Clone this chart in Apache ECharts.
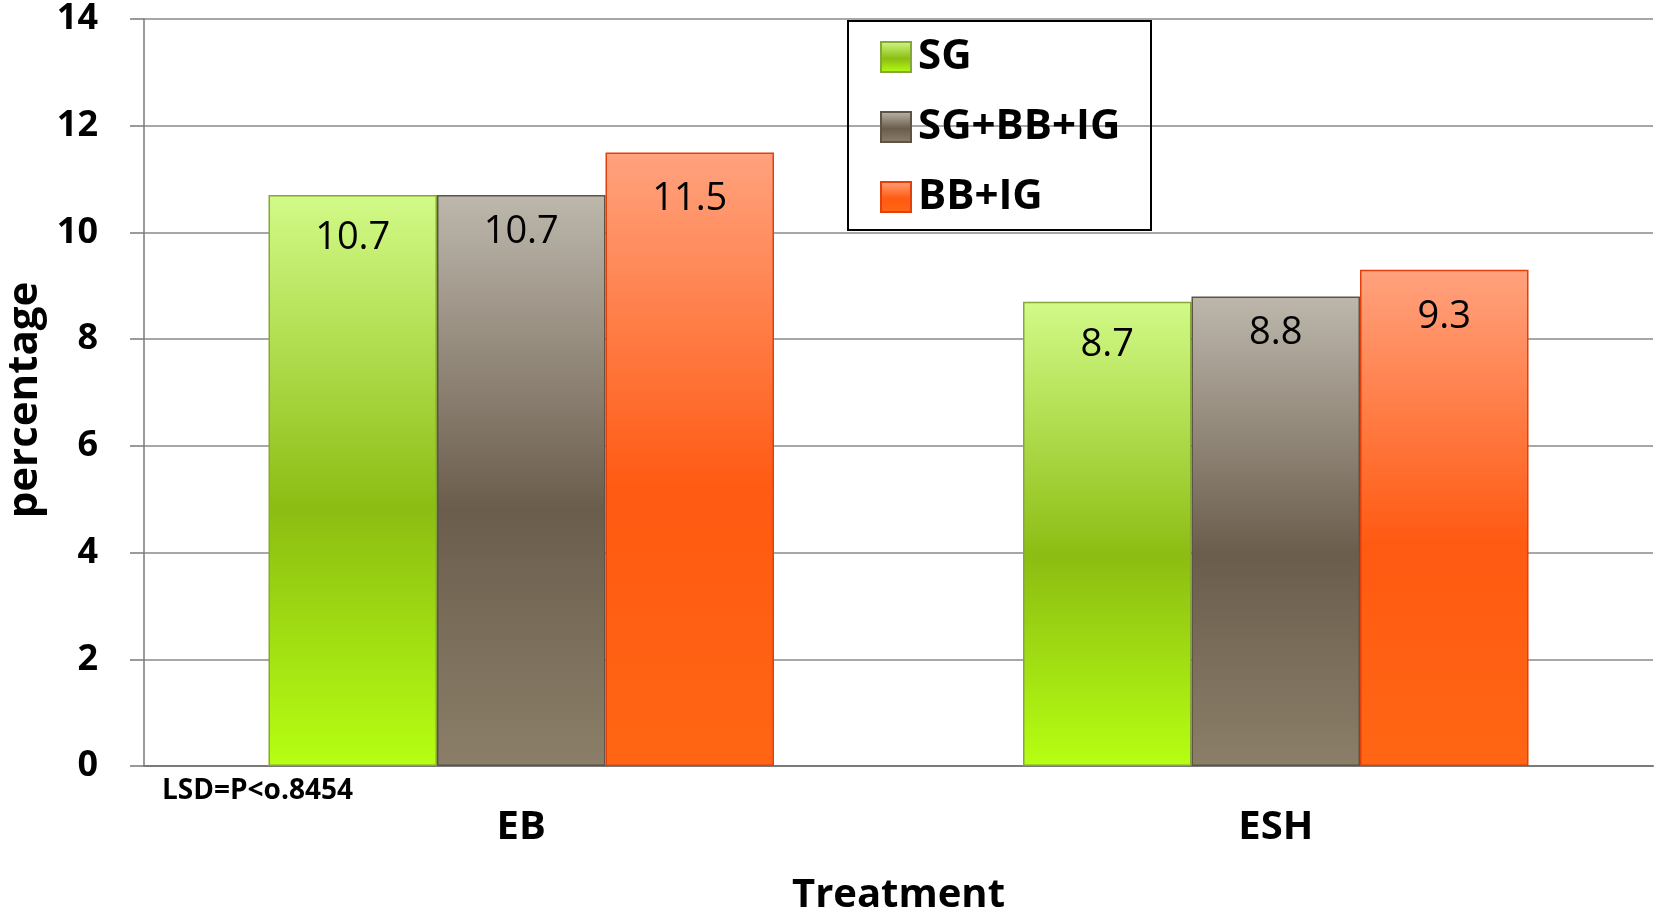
<!DOCTYPE html>
<html><head><meta charset="utf-8">
<script src="https://cdn.jsdelivr.net/npm/echarts@6/dist/echarts.min.js"></script>
<style>html,body{margin:0;padding:0;background:#fff}#c{width:1660px;height:913px}</style>
</head><body><div id="c"></div>
<script>
const categories = ['EB', 'ESH'];
const seriesNames = ['SG', 'SG+BB+IG', 'BB+IG'];
const sgValues = [10.7, 8.7];
const mixValues = [10.7, 8.8];
const bbigValues = [11.5, 9.3];
const yTicks = [0, 2, 4, 6, 8, 10, 12, 14];
const noteText = 'LSD=P<o.8454';

function grad(top, mid, bottom) {
  return new echarts.graphic.LinearGradient(0, 0, 0, 1, [
    {offset: 0, color: top}, {offset: 0.55, color: mid}, {offset: 1, color: bottom}
  ]);
}
const styles = [
  {color: grad('#d2fa88', '#8cbd12', '#b6ff12'), borderColor: '#86a83a', labelDist: 24},
  {color: grad('#bdb7ac', '#6b5d4c', '#8b7f69'), borderColor: '#5e5446', labelDist: 18},
  {color: grad('#ffa27e', '#ff5a12', '#ff6614'), borderColor: '#e0400c', labelDist: 28}
];
const values = [sgValues, mixValues, bbigValues];
const FONT = '"Open Sans", Lato, sans-serif';

const chart = echarts.init(document.getElementById('c'), null, {renderer: 'canvas'});
chart.setOption({
  animation: false,
  backgroundColor: '#fff',
  grid: {left: 144, right: 7, top: 19, bottom: 147, outerBoundsMode: 'none', containLabel: false},
  legend: {
    orient: 'vertical', left: 875, top: 31,
    itemWidth: 30, itemHeight: 30, itemGap: 28,
    icon: 'rect',
    data: seriesNames,
    textStyle: {fontSize: 42, fontWeight: 'bold', color: '#000', fontFamily: FONT, padding: [0,0,0,2]},
    selectedMode: false
  },
  xAxis: {
    type: 'category', data: categories,
    name: 'Treatment', nameLocation: 'middle', nameGap: 110,
    nameTextStyle: {fontSize: 40, fontWeight: 'bold', color: '#000', fontFamily: FONT},
    axisLine: {lineStyle: {color: '#7a7a7a', width: 2}},
    axisTick: {show: false},
    axisLabel: {fontSize: 40, fontWeight: 'bold', color: '#000', fontFamily: FONT, margin: 42}
  },
  yAxis: {
    type: 'value', min: yTicks[0], max: yTicks[yTicks.length - 1], interval: 2,
    name: 'percentage', nameLocation: 'middle', nameGap: 98,
    nameTextStyle: {fontSize: 42, fontWeight: 'bold', color: '#000', fontFamily: FONT, padding: [0, 15, 0, 0]},
    axisLine: {show: true, lineStyle: {color: '#7a7a7a', width: 1.5}},
    axisTick: {show: true, length: 14, lineStyle: {color: '#7a7a7a', width: 1.5}},
    axisLabel: {fontSize: 36, fontWeight: 'bold', color: '#000', fontFamily: FONT, margin: 46},
    splitLine: {lineStyle: {color: '#8a8a8a', width: 1.5}}
  },
  series: seriesNames.map((n, i) => ({
    name: n, type: 'bar', data: values[i],
    barGap: '0%', barCategoryGap: '33%',
    itemStyle: {color: styles[i].color, borderColor: styles[i].borderColor, borderWidth: 1.5},
    label: {show: true, position: 'insideTop', distance: styles[i].labelDist, fontSize: 38,
            color: '#000', fontFamily: FONT}
  })),
  graphic: [
    {type: 'rect', left: 847, top: 20, z: 5,
     shape: {width: 303, height: 209},
     style: {fill: 'rgba(255,255,255,0)', stroke: '#000', lineWidth: 2}},
    {type: 'rect', left: 847, top: 20, z: -1, silent: true,
     shape: {width: 303, height: 209},
     style: {fill: '#fff'}},
    {type: 'text', left: 162, top: 777,
     style: {text: noteText, fontSize: 28, fontWeight: 'bold', fill: '#000', fontFamily: FONT}}
  ]
});
</script></body></html>
